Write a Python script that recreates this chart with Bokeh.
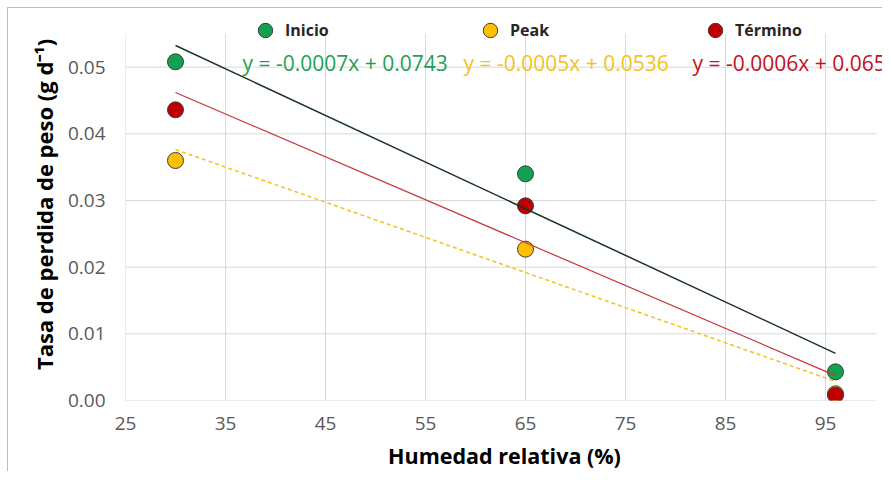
import numpy as np
from bokeh.plotting import figure
from bokeh.layouts import column, row
from bokeh.models import (Range1d, FixedTicker, NumeralTickFormatter, Legend, LegendItem, Label, Spacer)
from bokeh.embed import file_html
from bokeh.resources import INLINE

# ---- data ----
humedad = [30, 65, 96]
inicio = [0.0508, 0.0340, 0.0043]
peak = [0.0360, 0.0227, 0.0010]
termino = [0.0436, 0.0292, 0.0008]
series_names = ["Inicio", "Peak", "Término"]
equations = ["y = -0.0007x + 0.0743", "y = -0.0005x + 0.0536", "y = -0.0006x + 0.0654"]
x_ticks = [25, 35, 45, 55, 65, 75, 85, 95]
y_ticks = [0.0, 0.01, 0.02, 0.03, 0.04, 0.05]
x_axis_max = 100.1
y_axis_max = 0.055

FONT = "Open Sans"
fill_colors = ["#12a150", "#ffc000", "#c00000"]
line_colors = ["#1b3324", "#f2c21a", "#c8353a"]
eq_colors = ["#1fa055", "#f5c21b", "#c0131c"]

p = figure(width=875, height=464, output_backend="svg", toolbar_location=None,
           x_range=Range1d(25, 100.8), y_range=Range1d(0, 0.0588),
           min_border_left=117, min_border_right=0, min_border_top=0, min_border_bottom=72,
           background_fill_color="white", border_fill_color="white")
p.styles = {"border-left": "1px solid #bdbdbd", "border-top": "1px solid #bdbdbd"}
p.outline_line_color = None
p.grid.visible = False

for ax in (p.xaxis[0], p.yaxis[0]):
    ax.axis_line_color = None
    ax.major_tick_line_color = None
    ax.minor_tick_line_color = None
    ax.major_tick_out = 0
    ax.major_tick_in = 0
    ax.minor_tick_out = 0
    ax.minor_tick_in = 0
    ax.major_label_text_font = FONT
    ax.major_label_text_font_size = "19px"
    ax.major_label_text_color = "#595959"
    ax.axis_label_text_font = FONT
    ax.axis_label_text_font_style = "bold"
    ax.axis_label_text_color = "#000000"
p.xaxis.axis_label_text_font_size = "21.5px"
p.yaxis.axis_label_text_font_size = "22px"
p.xaxis.major_label_text_line_height = 0.75
p.xaxis.axis_label_text_line_height = 0.75

p.xaxis.ticker = FixedTicker(ticks=x_ticks)
p.yaxis.ticker = FixedTicker(ticks=y_ticks)
p.yaxis.formatter = NumeralTickFormatter(format="0.00")
p.xaxis.major_label_standoff = 16
p.yaxis.major_label_standoff = 20
p.xaxis.axis_label = "Humedad relativa (%)"
p.yaxis.axis_label = "Tasa de perdida de peso (g d\u207b\u00b9)"
p.xaxis.axis_label_standoff = 8
p.yaxis.axis_label_standoff = 6

# gridlines limited to the plotting area of the reference
p.segment(x0=x_ticks, x1=x_ticks, y0=[0] * len(x_ticks), y1=[y_axis_max] * len(x_ticks),
          line_color="#d9d9d9", line_width=1)
p.segment(x0=[x_ticks[0]] * len(y_ticks), x1=[x_axis_max] * len(y_ticks), y0=y_ticks, y1=y_ticks,
          line_color="#d9d9d9", line_width=1)

all_series = [inicio, peak, termino]
point_renderers = []
for ys, fc in zip(all_series, fill_colors):
    r = p.scatter(humedad, ys, size=16, fill_color=fc, line_color="#3c3c3c", line_width=1)
    point_renderers.append(r)

# linear trend lines fitted to each series
xs_fit = [min(humedad), max(humedad)]
dashes = ["solid", "4 3", "solid"]
widths = [1.5, 1.5, 1.2]
for ys, lc, dsh, w in zip(all_series, line_colors, dashes, widths):
    m, b = np.polyfit(humedad, ys, 1)
    yy = [m * xv + b for xv in xs_fit]
    p.line(xs_fit, yy, line_color=lc, line_width=w, line_dash=dsh)

items = [LegendItem(label=n, renderers=[r]) for n, r in zip(series_names, point_renderers)]
legend = Legend(items=items, orientation="horizontal", location=(122, 352),
                glyph_width=36, glyph_height=36, label_standoff=2, label_width=179,
                spacing=8, padding=0, margin=0,
                label_text_font=FONT, label_text_font_size="16px", label_text_font_style="bold",
                label_text_color="#262626", border_line_color=None, background_fill_alpha=0)
p.add_layout(legend, "center")

eq_x = [36.7, 58.8, 81.7]
for txt, col, xv in zip(equations, eq_colors, eq_x):
    p.add_layout(Label(x=xv, y=0.0507, text=txt, text_color=col, text_font=FONT,
                       text_font_size="21px", text_baseline="middle", text_align="left"))

layout = column(Spacer(height=7), row(Spacer(width=7), p))
open("out.html", "w").write(file_html(layout, INLINE))
